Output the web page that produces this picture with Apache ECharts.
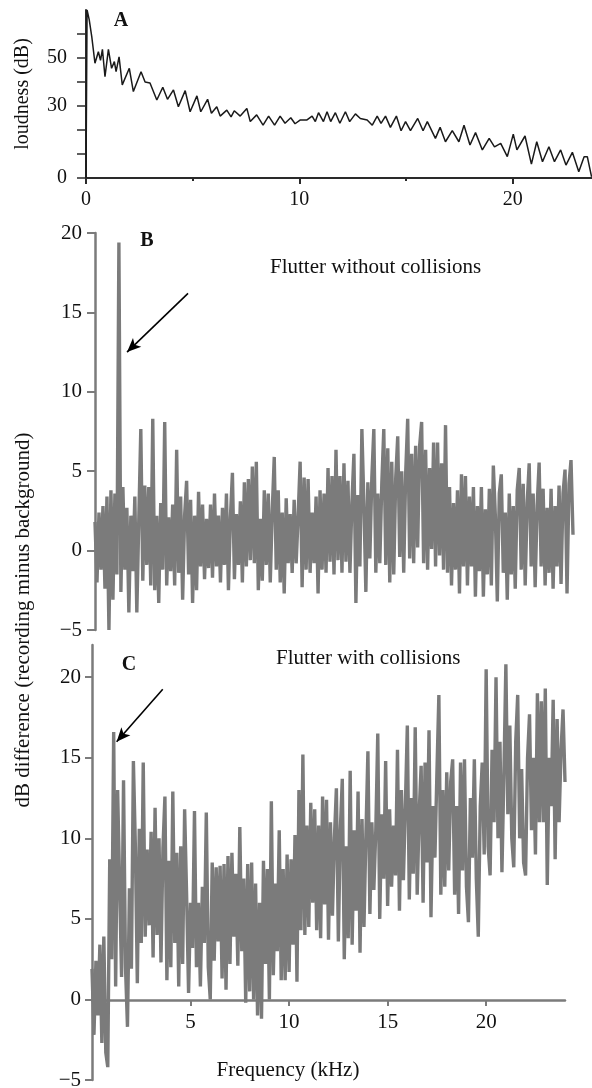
<!DOCTYPE html>
<html><head><meta charset="utf-8">
<script src="https://cdn.jsdelivr.net/npm/echarts@6/dist/echarts.min.js"></script>
<style>html,body{margin:0;padding:0;background:#fff}#c{width:592px;height:1088px}</style>
</head><body><div id="c"></div>
<script>
// Panel A: loudness spectrum (kHz, dB)
const freqA = [0,0.05,0.15,0.27,0.42,0.58,0.68,0.77,0.89,1.05,1.2,1.33,1.41,1.55,1.7,2.03,2.22,2.58,2.77,3.0,
  3.32,3.6,3.82,4.1,4.33,4.65,4.88,5.2,5.38,5.7,5.88,6.13,6.29,6.6,6.8,6.95,7.23,7.54,7.7,8.0,
  8.3,8.56,8.84,9.1,9.33,9.6,9.8,10.05,10.36,10.6,10.75,10.9,11.13,11.3,11.47,11.69,11.9,12.16,12.36,12.63,
  12.86,13.18,13.42,13.65,13.83,14.04,14.27,14.55,14.77,14.98,15.21,15.55,15.8,16.0,16.38,16.6,16.85,17.17,17.48,17.72,
  18.0,18.26,18.58,18.9,19.15,19.44,19.75,20.03,20.2,20.58,20.88,21.13,21.4,21.7,21.96,22.25,22.5,22.8,23.1,23.35,
  23.5,23.7];
const loudA = [0,70,66,58.9,47.8,52.6,49,53.6,42.2,53.6,45.7,48.5,44.3,50.5,38.8,45.7,36,44.3,40,39.6,
  32.5,37.8,32.8,36.7,29.7,36.4,27.6,34.2,27.6,32.8,27,29.7,25.8,28.3,25.5,28,25.8,29,23.5,26.3,
  22,25.8,22,25.8,22.8,25.1,22.6,24.2,24.2,25.8,23.5,27.2,23.5,27.6,23.5,27.2,22.8,27.6,23.5,26.7,
  24.8,24.2,22,25.8,22.8,25.8,21.1,25.8,19.7,23.5,19.7,24.8,19.7,23.5,16.5,21.1,15.1,19.7,15.1,22,
  13.75,18.9,11.7,16.5,13,14.4,8.9,18.3,11.7,17.5,5.8,15.1,6.8,13,6.8,11.7,5.4,10.7,2.6,8.9,
  8.9,0.5];

// Panels B and C: dB difference sampled every 0.1 kHz from 0 to 24 kHz
const stepKHz = 0.1;
const diffB = [
  1.8,-2.0,2.4,-1.2,2.8,-2.4,3.4,-5.0,3.8,-3.1,
  3.6,-1.5,19.4,-2.6,4.0,-1.2,2.7,-3.9,2.2,-1.3,
  3.4,-3.9,2.0,7.65,-1.9,4.1,-0.9,4.0,-2.2,8.3,
  -2.5,2.2,-3.3,3.0,-1.2,8.1,-2.2,2.1,-1.3,2.9,
  -2.2,6.35,-1.4,3.4,-3.1,2.2,4.4,-1.5,3.2,-3.3,
  2.2,-2.5,3.7,-1.0,2.9,-1.8,2.0,-1.1,2.9,-1.7,
  3.6,-1.0,2.2,-2.0,2.7,-0.9,3.6,-2.5,2.1,4.9,
  -1.8,2.3,-0.9,3.1,-2.0,4.3,-1.0,4.5,-0.6,5.3,
  -0.8,5.6,-2.5,2.0,-1.9,3.8,-0.9,3.6,-2.0,2.5,
  5.9,-1.2,3.8,-2.0,2.4,-2.7,3.3,-0.8,2.3,-1.4,
  3.2,-0.8,2.2,5.6,-2.3,4.6,-1.2,4.5,-1.4,2.4,
  -0.8,3.4,-2.7,3.8,-1.2,3.6,-1.4,5.2,-0.7,4.7,
  -1.5,6.35,-0.6,4.7,-1.4,5.5,-0.7,4.4,-1.4,3.0,
  6.1,-3.3,3.5,-1.0,7.65,3.0,-2.6,4.3,-0.5,4.6,
  7.65,-1.4,3.6,-0.8,4.2,7.65,-0.9,6.45,-2.0,5.6,
  -1.5,4.6,7.2,-0.4,5.0,-1.4,4.9,8.3,-0.5,6.1,
  -0.8,6.6,0.2,6.6,8.1,-0.8,6.35,-1.2,5.2,0.1,
  6.8,-1.0,6.8,-0.3,5.5,-1.2,7.9,-1.4,4.0,-2.2,
  3.0,-1.2,3.8,-2.7,4.8,-1.0,4.7,-2.2,3.4,-1.0,
  4.0,-2.9,2.8,-1.3,4.0,-2.9,2.6,-1.5,3.9,-2.2,
  5.35,2.2,-3.2,3.6,4.8,-1.4,2.4,-3.1,3.6,-1.5,
  2.8,-2.4,3.8,5.2,-1.2,4.2,-2.2,3.0,5.5,-1.0,
  3.6,-2.3,2.8,5.55,-1.0,3.9,-2.2,2.7,-1.4,3.9,
  -2.4,2.8,-1.0,4.1,-2.1,3.6,5.1,-2.7,4.2,5.7,
  1.0];
const diffC = [
  1.9,-2.2,2.4,-1.0,3.4,-2.7,3.9,-3.3,-4.2,8.7,
  2.5,16.6,0.8,13.0,7.2,1.4,13.6,2.0,-1.7,6.9,
  1.9,14.8,9.5,1.0,10.6,3.5,14.7,3.9,9.3,4.6,
  10.4,2.6,11.9,4.0,10.0,2.3,9.4,12.6,1.2,8.6,
  2.0,12.9,3.5,9.1,0.8,9.5,2.2,11.8,6.5,0.4,
  6.0,3.2,11.7,2.0,6.0,0.8,7.0,3.5,11.6,2.0,
  0.0,8.5,2.4,8.2,3.6,8.3,1.3,8.4,0.6,8.9,
  2.2,9.1,3.9,7.8,2.1,10.7,3.0,7.5,-0.2,8.4,
  0.5,8.5,0.0,7.2,-1.0,6.0,-1.2,8.6,2.2,8.1,
  0.0,12.3,1.5,7.2,3.0,10.5,1.2,8.1,1.2,9.0,
  1.7,8.7,3.4,10.2,1.1,13.0,4.3,15.2,4.0,10.8,
  4.5,12.2,6.0,11.8,4.3,10.8,3.8,12.6,5.9,12.4,
  3.7,11.0,5.2,10.0,13.1,3.6,10.5,13.7,2.5,9.5,
  3.8,14.2,3.4,10.5,5.5,12.9,2.9,11.2,4.5,10.3,
  15.4,5.3,11.0,6.8,10.5,16.5,5.0,11.5,7.5,14.8,
  5.8,11.8,7.0,10.8,7.7,15.5,5.5,13.0,7.4,12.0,
  17.0,6.2,12.5,7.8,16.9,6.5,11.5,14.5,6.0,14.7,
  8.5,16.7,5.1,12.0,8.8,14.0,18.9,6.5,13.0,7.0,
  14.1,8.0,13.5,14.9,6.5,12.0,5.3,14.7,8.0,14.9,
  7.0,4.8,12.5,8.8,14.9,7.5,3.9,12.0,14.7,9.0,
  20.5,9.5,7.7,15.5,11.0,20.0,10.0,16.0,7.9,14.0,
  20.8,11.5,17.0,10.0,8.2,16.0,18.9,10.0,14.3,8.5,
  7.7,15.0,17.7,10.5,15.0,9.0,19.0,11.0,18.5,11.0,
  19.3,7.1,15.0,12.0,18.6,8.7,17.4,11.0,15.5,18.0,
  13.5];

// Tick / label values
const xLabelsA = [0, 10, 20];
const xMinorTicksA = [5, 15];
const yTicksA = [0, 10, 20, 30, 40, 50, 60];
const yLabelsA = [0, 30, 50];
const xLabelsC = [5, 10, 15, 20];
const yValsC = [-5, 0, 5, 10, 15, 20];

// Arrow annotations (data coordinates)
const arrowB = [[4.67, 16.2], [1.61, 12.5]];
const arrowC = [[3.59, 19.25], [1.25, 16.0]];

const FONT = '"Liberation Serif", "Times New Roman", serif';
const lblA = { fontFamily: FONT, fontSize: 20, color: '#111' };
const lbl = { fontFamily: FONT, fontSize: 21, color: '#111' };
const GRAY = '#7b7b7b';
const DARK = '#2a2a2a';
const minus = v => (v < 0 ? '\u2212' + Math.abs(v) : String(v));

const pairsA = freqA.map((f, i) => [f, loudA[i]]);
const pairsB = diffB.map((v, i) => [+(i * stepKHz).toFixed(1), v]);
const pairsC = diffC.map((v, i) => [+(i * stepKHz).toFixed(1), v]);

const arrowLine = (pts) => ({
  silent: true, symbol: ['none', 'arrow'], symbolSize: [9, 14],
  lineStyle: { color: '#000', width: 1.6, type: 'solid' },
  label: { show: false },
  data: [[{ coord: pts[0] }, { coord: pts[1] }]]
});

const G = (o) => Object.assign({ containLabel: false, outerBoundsMode: 'none' }, o);

const chart = echarts.init(document.getElementById('c'), null, { renderer: 'canvas' });
chart.setOption({
  animation: false,
  backgroundColor: '#fff',
  grid: [
    G({ left: 86, top: 10, width: 506, height: 168 }),
    G({ left: 95, top: 233, width: 478, height: 397 }),
    G({ left: 92, top: 645, width: 473, height: 435 }),
    G({ left: 92, top: 645, width: 473, height: 355 })
  ],
  xAxis: [
    { gridIndex: 0, type: 'value', min: 0, max: 23.72, interval: 10, splitLine: { show: false },
      axisLine: { lineStyle: { color: DARK, width: 2 } },
      axisTick: { length: 6, customValues: xLabelsA, lineStyle: { color: DARK, width: 2 } },
      axisLabel: Object.assign({}, lblA, { margin: 12, customValues: xLabelsA }) },
    { gridIndex: 0, type: 'value', min: 0, max: 23.72, position: 'bottom', splitLine: { show: false },
      axisLine: { show: false },
      axisTick: { length: 3, customValues: xMinorTicksA, lineStyle: { color: DARK, width: 2 } },
      axisLabel: { show: false } },
    { gridIndex: 1, type: 'value', min: 0, max: 24, show: false },
    { gridIndex: 2, type: 'value', min: 0, max: 24, show: false },
    { gridIndex: 3, type: 'value', min: 0, max: 24, interval: 5, splitLine: { show: false },
      axisLine: { onZero: false, lineStyle: { color: GRAY, width: 2.5 } },
      axisTick: { length: 6, customValues: xLabelsC, lineStyle: { color: GRAY, width: 2 } },
      axisLabel: Object.assign({}, lbl, { margin: 12, customValues: xLabelsC }) }
  ],
  yAxis: [
    { gridIndex: 0, type: 'value', min: 0, max: 70, interval: 10, splitLine: { show: false },
      axisLine: { show: true, lineStyle: { color: DARK, width: 2 } },
      axisTick: { show: true, length: 9, customValues: yTicksA, lineStyle: { color: DARK, width: 1.5 } },
      axisLabel: Object.assign({}, lblA, { margin: 19, customValues: yLabelsA }) },
    { gridIndex: 1, type: 'value', min: -5, max: 20, interval: 5, splitLine: { show: false },
      axisLine: { show: true, lineStyle: { color: GRAY, width: 2.5 } },
      axisTick: { show: true, length: 8, lineStyle: { color: GRAY, width: 2 } },
      axisLabel: Object.assign({}, lbl, { margin: 13, formatter: minus }) },
    { gridIndex: 2, type: 'value', min: -5, max: 22, interval: 5, splitLine: { show: false },
      axisLine: { show: true, onZero: false, lineStyle: { color: GRAY, width: 2.5 } },
      axisTick: { show: true, length: 7, customValues: yValsC, lineStyle: { color: GRAY, width: 2 } },
      axisLabel: Object.assign({}, lbl, { margin: 11, customValues: yValsC, formatter: minus }) },
    { gridIndex: 3, type: 'value', min: 0, max: 22, show: false }
  ],
  series: [
    { type: 'line', xAxisIndex: 0, yAxisIndex: 0, data: pairsA, showSymbol: false, silent: true,
      lineStyle: { color: '#1a1a1a', width: 1.5 } },
    { type: 'line', xAxisIndex: 2, yAxisIndex: 1, data: pairsB, showSymbol: false, silent: true,
      lineStyle: { color: GRAY, width: 3.4 }, markLine: arrowLine(arrowB) },
    { type: 'line', xAxisIndex: 3, yAxisIndex: 2, data: pairsC, showSymbol: false, silent: true,
      lineStyle: { color: GRAY, width: 3.4 }, markLine: arrowLine(arrowC) }
  ],
  graphic: [
    { type: 'text', x: 23, y: 94, rotation: Math.PI / 2,
      style: { text: 'loudness (dB)', font: '20px ' + FONT, fill: '#111', align: 'center', verticalAlign: 'middle' } },
    { type: 'text', x: 23, y: 620, rotation: Math.PI / 2,
      style: { text: 'dB difference (recording minus background)', font: '21px ' + FONT, fill: '#111', align: 'center', verticalAlign: 'middle' } },
    { type: 'text', x: 121, y: 21,
      style: { text: 'A', font: 'bold 20px ' + FONT, fill: '#111', align: 'center', verticalAlign: 'middle' } },
    { type: 'text', x: 147, y: 241,
      style: { text: 'B', font: 'bold 20px ' + FONT, fill: '#111', align: 'center', verticalAlign: 'middle' } },
    { type: 'text', x: 129, y: 665,
      style: { text: 'C', font: 'bold 20px ' + FONT, fill: '#111', align: 'center', verticalAlign: 'middle' } },
    { type: 'text', x: 270, y: 267,
      style: { text: 'Flutter without collisions', font: '21px ' + FONT, fill: '#111', align: 'left', verticalAlign: 'middle' } },
    { type: 'text', x: 276, y: 658,
      style: { text: 'Flutter with collisions', font: '21px ' + FONT, fill: '#111', align: 'left', verticalAlign: 'middle' } },
    { type: 'text', x: 288, y: 1070,
      style: { text: 'Frequency (kHz)', font: '21px ' + FONT, fill: '#111', align: 'center', verticalAlign: 'middle' } }
  ]
});
</script>
</body></html>
